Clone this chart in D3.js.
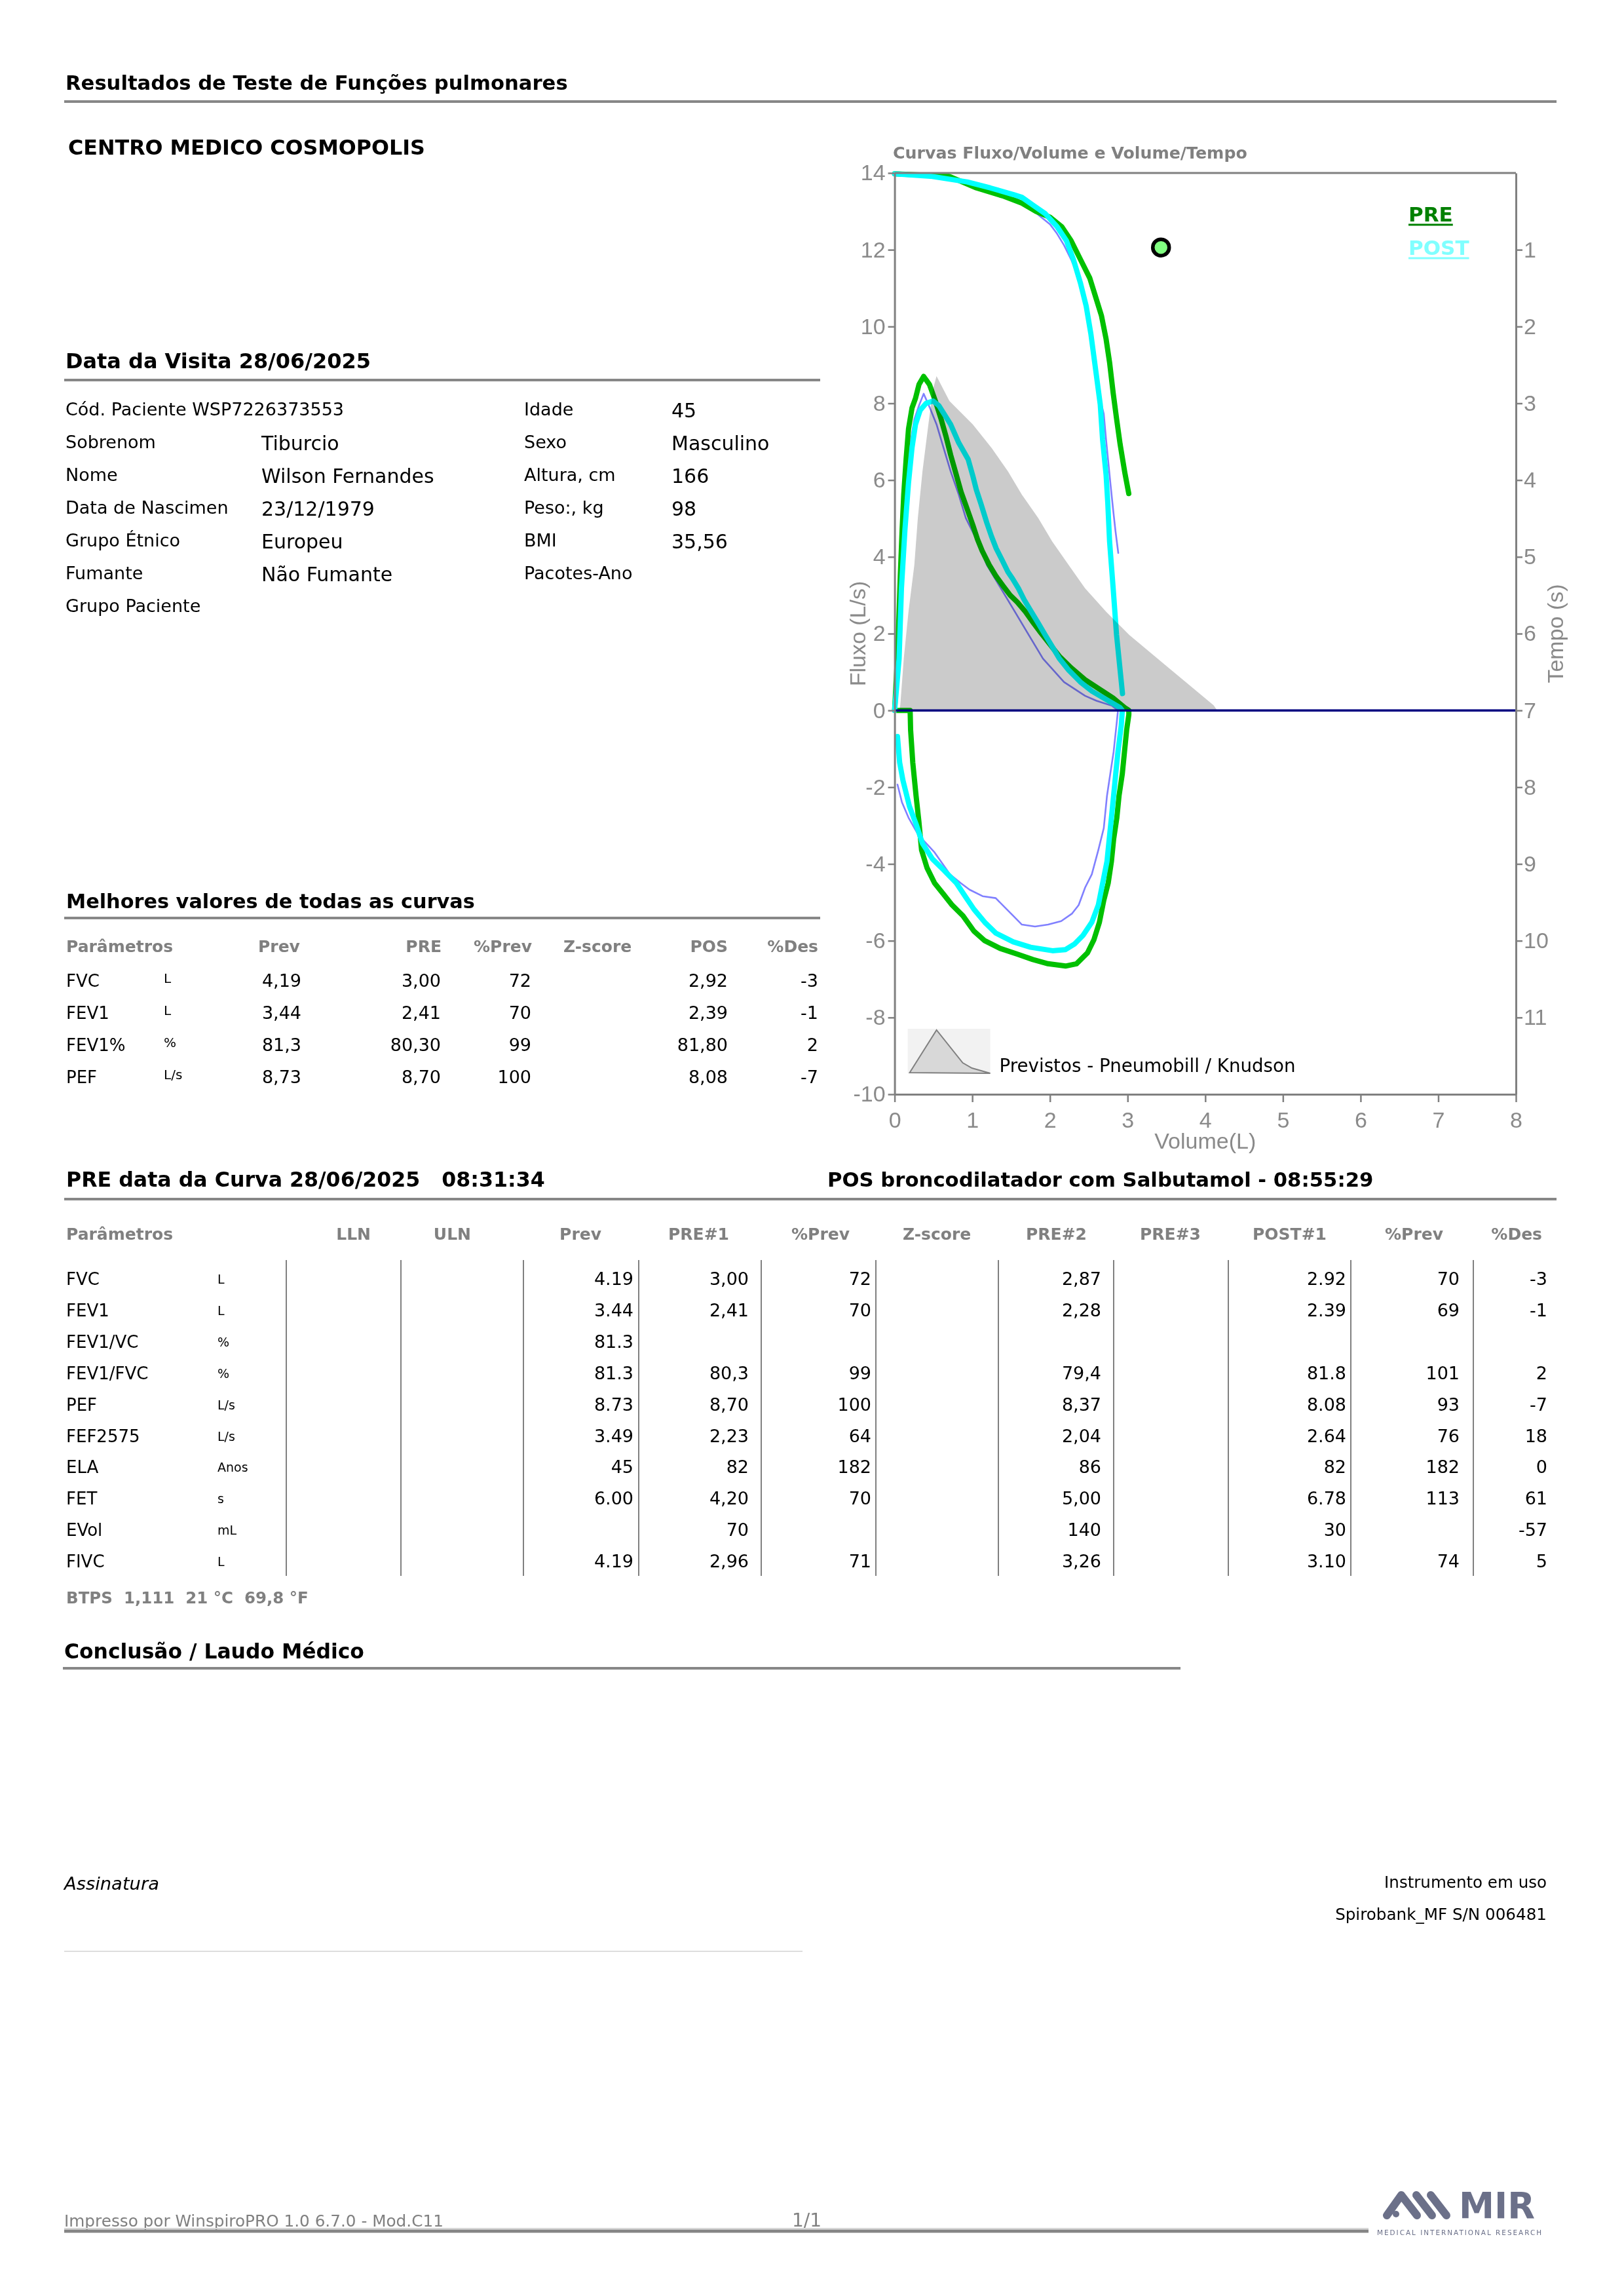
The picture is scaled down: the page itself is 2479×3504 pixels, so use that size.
<!DOCTYPE html>
<html><head><meta charset="utf-8">
<script src="https://cdnjs.cloudflare.com/ajax/libs/d3/7.8.5/d3.min.js"></script>
<style>body{margin:0;background:#fff}svg{display:block}</style>
</head><body>
<script>
// ================= DATA =================
const patLabelsA = ["Cód. Paciente WSP7226373553","Sobrenom","Nome","Data de Nascimen","Grupo Étnico","Fumante","Grupo Paciente"];
const patValuesA = ["","Tiburcio","Wilson Fernandes","23/12/1979","Europeu","Não Fumante",""];
const patLabelsB = ["Idade","Sexo","Altura, cm","Peso:, kg","BMI","Pacotes-Ano",""];
const patValuesB = ["45","Masculino","166","98","35,56","",""];

const bestHeaders = ["Parâmetros","Prev","PRE","%Prev","Z-score","POS","%Des"];
const bestParams  = ["FVC","FEV1","FEV1%","PEF"];
const bestUnits   = ["L","L","%","L/s"];
const bestPrev    = ["4,19","3,44","81,3","8,73"];
const bestPre     = ["3,00","2,41","80,30","8,70"];
const bestPctPrev = ["72","70","99","100"];
const bestPos     = ["2,92","2,39","81,80","8,08"];
const bestPctDes  = ["-3","-1","2","-7"];

const tabHeaders   = ["Parâmetros","LLN","ULN","Prev","PRE#1","%Prev","Z-score","PRE#2","PRE#3","POST#1","%Prev","%Des"];
const tabParams    = ["FVC","FEV1","FEV1/VC","FEV1/FVC","PEF","FEF2575","ELA","FET","EVol","FIVC"];
const tabUnits     = ["L","L","%","%","L/s","L/s","Anos","s","mL","L"];
const tabPrev      = ["4.19","3.44","81.3","81.3","8.73","3.49","45","6.00","","4.19"];
const tabPre1      = ["3,00","2,41","","80,3","8,70","2,23","82","4,20","70","2,96"];
const tabPctPrev   = ["72","70","","99","100","64","182","70","","71"];
const tabPre2      = ["2,87","2,28","","79,4","8,37","2,04","86","5,00","140","3,26"];
const tabPost1     = ["2.92","2.39","","81.8","8.08","2.64","82","6.78","30","3.10"];
const tabPostPct   = ["70","69","","101","93","76","182","113","","74"];
const tabPctDes    = ["-3","-1","","2","-7","18","0","61","-57","5"];

const volTicks  = [0,1,2,3,4,5,6,7,8];
const flowTicks = [14,12,10,8,6,4,2,0,-2,-4,-6,-8,-10];
const timeTicks = [1,2,3,4,5,6,7,8,9,10,11];

// Flow/volume loops [volume L, flow L/s]
const preFV = [[0,0],[0.043,1.66],[0.073,3.49],[0.097,4.71],[0.118,5.63],[0.148,6.54],[0.179,7.33],[0.224,7.88],[0.269,8.13],[0.314,8.49],[0.374,8.70],[0.449,8.49],[0.525,8.06],[0.6,7.58],[0.66,7.15],[0.721,6.66],[0.781,6.23],[0.856,5.69],[0.932,5.26],[1.007,4.83],[1.067,4.46],[1.127,4.16],[1.218,3.79],[1.308,3.49],[1.398,3.24],[1.488,3.0],[1.579,2.82],[1.685,2.57],[1.79,2.27],[1.88,2.03],[2.0,1.72],[2.121,1.41],[2.272,1.11],[2.452,0.8],[2.633,0.56],[2.814,0.32],[2.964,0.07],[3.016,0],
  [3.016,-0.11],[2.988,-0.51],[2.96,-1.08],[2.932,-1.65],[2.89,-2.22],[2.862,-2.79],[2.82,-3.36],[2.792,-3.93],[2.75,-4.5],[2.693,-4.95],[2.637,-5.52],[2.567,-5.97],[2.482,-6.32],[2.342,-6.6],[2.201,-6.66],[1.976,-6.6],[1.78,-6.49],[1.583,-6.35],[1.358,-6.2],[1.161,-6.0],[1.021,-5.75],[0.88,-5.35],[0.74,-5.07],[0.627,-4.78],[0.515,-4.5],[0.417,-4.1],[0.347,-3.64],[0.313,-2.9],[0.276,-2.22],[0.234,-1.36],[0.206,-0.51],[0.2,0],[0.03,0]];
const postFV = [[0,0],[0.058,1.35],[0.088,3.18],[0.133,4.71],[0.179,5.93],[0.224,6.84],[0.269,7.45],[0.329,7.82],[0.405,8.0],[0.495,8.06],[0.57,7.94],[0.721,7.45],[0.826,6.97],[0.947,6.54],[1.007,6.11],[1.052,5.75],[1.112,5.38],[1.187,4.89],[1.248,4.53],[1.308,4.22],[1.383,3.92],[1.459,3.61],[1.519,3.43],[1.594,3.18],[1.669,2.88],[1.76,2.57],[1.85,2.27],[1.94,1.96],[2.03,1.66],[2.121,1.35],[2.241,1.05],[2.392,0.74],[2.542,0.5],[2.753,0.25],[2.904,0.07],[2.932,0],
  [2.918,-0.4],[2.876,-1.08],[2.847,-1.65],[2.82,-2.22],[2.792,-2.79],[2.763,-3.36],[2.735,-3.93],[2.679,-4.5],[2.623,-5.07],[2.539,-5.52],[2.426,-5.86],[2.314,-6.09],[2.201,-6.23],[2.033,-6.26],[1.751,-6.17],[1.527,-6.03],[1.302,-5.8],[1.161,-5.52],[1.021,-5.18],[0.908,-4.84],[0.796,-4.5],[0.627,-4.15],[0.487,-3.87],[0.36,-3.47],[0.276,-2.96],[0.191,-2.5],[0.107,-1.82],[0.065,-1.36],[0.037,-0.68]];
const pre2FV = [[0,0],[0.043,1.66],[0.073,3.49],[0.118,5.63],[0.194,6.84],[0.254,7.58],[0.314,7.94],[0.374,8.25],[0.45,7.9],[0.54,7.45],[0.63,6.84],[0.721,6.23],[0.826,5.62],[0.917,5.01],[1.067,4.40],[1.187,3.79],[1.368,3.18],[1.549,2.57],[1.729,1.96],[1.91,1.35],[2.181,0.74],[2.452,0.38],[2.6,0.25],[2.8,0.12],[2.876,0],
  [2.862,-0.28],[2.82,-1.08],[2.777,-1.65],[2.735,-2.22],[2.693,-3.07],[2.623,-3.64],[2.539,-4.27],[2.454,-4.61],[2.37,-5.07],[2.286,-5.29],[2.145,-5.49],[1.976,-5.58],[1.808,-5.63],[1.639,-5.58],[1.527,-5.35],[1.414,-5.12],[1.302,-4.89],[1.133,-4.84],[0.965,-4.67],[0.852,-4.5],[0.712,-4.27],[0.515,-3.7],[0.304,-3.24],[0.178,-2.79],[0.094,-2.39],[0.037,-1.93]];
// Predicted (Knudson) expiratory curve [volume, flow]
const predFV = [[0.06,0],[0.073,0.13],[0.118,1.35],[0.179,2.57],[0.254,3.79],[0.299,5.01],[0.359,6.23],[0.435,7.45],[0.495,8.37],[0.54,8.71],[0.706,8.06],[1.007,7.45],[1.248,6.84],[1.459,6.23],[1.639,5.62],[1.85,5.01],[2.03,4.40],[2.241,3.79],[2.452,3.18],[2.723,2.57],[3.024,1.96],[3.385,1.35],[3.747,0.74],[4.109,0.13],[4.154,0]];
// Volume/time curves [volume L, time s]
const preVT  = [[0,0.011],[0.698,0.042],[1.053,0.194],[1.407,0.303],[1.639,0.393],[1.82,0.5],[2.0,0.576],[2.151,0.698],[2.272,0.881],[2.392,1.125],[2.513,1.369],[2.588,1.613],[2.663,1.857],[2.723,2.162],[2.768,2.467],[2.814,2.864],[2.858,3.2],[2.904,3.535],[2.964,3.901],[3.015,4.176]];
const postVT = [[0,0.011],[0.461,0.042],[0.934,0.116],[1.23,0.194],[1.526,0.28],[1.639,0.317],[1.79,0.424],[1.94,0.53],[2.091,0.698],[2.212,0.881],[2.302,1.125],[2.392,1.43],[2.467,1.735],[2.528,2.101],[2.588,2.559],[2.648,3.016],[2.678,3.474],[2.723,3.931],[2.745,4.3],[2.768,4.798],[2.814,5.408],[2.858,6.018],[2.919,6.628],[2.934,6.781]];
const pre2VT = [[0,0.011],[0.46,0.04],[0.93,0.12],[1.23,0.19],[1.53,0.3],[1.82,0.52],[2.0,0.667],[2.091,0.79],[2.181,0.94],[2.272,1.125],[2.347,1.308],[2.392,1.43],[2.467,1.735],[2.528,2.101],[2.588,2.559],[2.648,2.95],[2.693,3.138],[2.723,3.474],[2.753,3.779],[2.783,4.084],[2.814,4.389],[2.844,4.664],[2.88,4.95]];
const predFEV1 = [[3.43, 0.97]];

// ================= RENDER =================
const W=2479,H=3504;
const FF='DejaVu Sans', FA='Liberation Sans';
const GRAY='#808080';
const svg=d3.select('body').append('svg').attr('width',W).attr('height',H).attr('viewBox',`0 0 ${W} ${H}`);
svg.append('rect').attr('width',W).attr('height',H).attr('fill','#fff');

function txt(g,x,y,s,o={}){
  const fs=o.fs||27;
  const t=g.append('text').attr('x',x).attr('y',y).text(s)
    .attr('font-family',o.ff||FF).attr('font-size',fs)
    .attr('font-weight',o.fw||'normal').attr('fill',o.fill||'#000')
    .attr('text-anchor',o.anchor||'start').style('white-space','pre');
  if(o.italic) t.attr('font-style','italic');
  if(o.ls) t.attr('letter-spacing',o.ls);
  if(o.w && s){ const L=t.node().getComputedTextLength(); if(L>0) t.attr('font-size',fs*o.w/L); }
  return t;
}
function rule(x1,x2,y,w=4,c='#878787'){
  svg.append('line').attr('x1',x1).attr('x2',x2).attr('y1',y).attr('y2',y).attr('stroke',c).attr('stroke-width',w);
}

// ---- header ----
txt(svg,100,137,"Resultados de Teste de Funções pulmonares",{fw:'bold',fs:31,w:767});
rule(98,2376,155);
txt(svg,104,236,"CENTRO MEDICO COSMOPOLIS",{fw:'bold',fs:31,w:545});
txt(svg,100,562,"Data da Visita 28/06/2025",{fw:'bold',fs:31,w:466});
rule(98,1252,580);

const patY0=634, patDY=50;
patLabelsA.forEach((s,i)=>{ if(s) txt(svg,100,patY0+i*patDY,s,{fs:27}); });
patValuesA.forEach((s,i)=>{ if(s) txt(svg,399,patY0+3+i*patDY,s,{fs:30}); });
patLabelsB.forEach((s,i)=>{ if(s) txt(svg,800,patY0+i*patDY,s,{fs:27}); });
patValuesB.forEach((s,i)=>{ if(s) txt(svg,1025,patY0+3+i*patDY,s,{fs:30}); });

// ---- best values ----
txt(svg,101,1386,"Melhores valores de todas as curvas",{fw:'bold',fs:31,w:624});
rule(98,1252,1401);
const bestHdrPos=[[101,'start'],[394,'start'],[674,'end'],[812,'end'],[860,'start'],[1111,'end'],[1249,'end']];
bestHeaders.forEach((s,i)=>txt(svg,bestHdrPos[i][0],1453,s,{fw:'bold',fs:25,fill:GRAY,anchor:bestHdrPos[i][1]}));
const bestCols=[[bestPrev,460],[bestPre,673],[bestPctPrev,811],[bestPos,1111],[bestPctDes,1249]];
bestParams.forEach((p,i)=>{
  const y=1506+i*49;
  txt(svg,101,y,p,{fs:26});
  txt(svg,250,y-6,bestUnits[i],{fs:20});
  bestCols.forEach(([arr,x])=>{ if(arr[i]) txt(svg,x,y,arr[i],{fs:27,anchor:'end'}); });
});

// ---- full table ----
txt(svg,101,1811,"PRE data da Curva 28/06/2025   08:31:34",{fw:'bold',fs:31,w:731});
txt(svg,1263,1811,"POS broncodilatador com Salbutamol - 08:55:29",{fw:'bold',fs:31,w:834});
rule(98,2376,1830);
const tabHdrPos=[[101,'start'],[566,'end'],[719,'end'],[918,'end'],[1113,'end'],[1297,'end'],[1378,'start'],[1659,'end'],[1833,'end'],[2025,'end'],[2203,'end'],[2354,'end']];
tabHeaders.forEach((s,i)=>txt(svg,tabHdrPos[i][0],1892,s,{fw:'bold',fs:25,fill:GRAY,anchor:tabHdrPos[i][1]}));
const sepX=[437,612,799,975,1162,1337,1524,1700,1875,2062,2249];
sepX.forEach(x=>svg.append('line').attr('x1',x).attr('x2',x).attr('y1',1923).attr('y2',2405).attr('stroke',GRAY).attr('stroke-width',2));
const tabCols=[[tabPrev,967],[tabPre1,1143],[tabPctPrev,1330],[tabPre2,1681],[tabPost1,2055],[tabPostPct,2228],[tabPctDes,2362]];
tabParams.forEach((p,i)=>{
  const y=1961+i*47.9;
  txt(svg,101,y,p,{fs:26});
  txt(svg,332,y-2,tabUnits[i],{fs:19});
  tabCols.forEach(([arr,x])=>{ if(arr[i]) txt(svg,x,y,arr[i],{fs:27,anchor:'end'}); });
});
txt(svg,101,2447,"BTPS  1,111  21 °C  69,8 °F",{fw:'bold',fs:25,fill:GRAY,w:370});

// ---- conclusion / signature ----
txt(svg,98,2531,"Conclusão / Laudo Médico",{fw:'bold',fs:31,w:458});
rule(96,1802,2546);
txt(svg,98,2884,"Assinatura",{fs:26,italic:true,w:145});
txt(svg,2361,2881,"Instrumento em uso",{fs:26,anchor:'end',w:248});
txt(svg,2361,2930,"Spirobank_MF S/N 006481",{fs:26,anchor:'end',w:323});
rule(98,1225,2978,2,'#dedede');

// ---- footer ----
txt(svg,98,3398,"Impresso por WinspiroPRO 1.0 6.7.0 - Mod.C11",{fs:24,fill:GRAY,w:579});
txt(svg,1209,3398,"1/1",{fs:24,fill:GRAY,w:45});
rule(98,2089,3401,2,'#d8d8d8');
rule(98,2089,3405,5,'#858585');
// MIR logo
const LOGO='#6b7089';
const logo=svg.append('g').attr('fill','none').attr('stroke',LOGO).attr('stroke-width',12).attr('stroke-linecap','round').attr('stroke-linejoin','round');
logo.append('path').attr('d','M2117,3381 L2139,3350 L2163,3381');
logo.append('path').attr('d','M2162,3350 L2186,3381');
logo.append('path').attr('d','M2184,3350 L2208,3381');
svg.append('circle').attr('cx',2131).attr('cy',3379).attr('r',5).attr('fill',LOGO);
txt(svg,2227,3385,"MIR",{fw:'bold',fs:52,fill:LOGO,w:116});
txt(svg,2102,3411,"MEDICAL INTERNATIONAL RESEARCH",{fs:9,fill:LOGO,ls:2,w:263});

// ================= CHART =================
const X=d3.scaleLinear().domain([0,8]).range([1365.6,2314]);
const Y=d3.scaleLinear().domain([-10,14]).range([1670,264]);
const Tm=d3.scaleLinear().domain([0,12]).range([264,1670]);
const chart=svg.append('g');

txt(chart,1363,242,"Curvas Fluxo/Volume e Volume/Tempo",{fw:'bold',fs:26,fill:GRAY,w:541});

const lineFV=d3.line().x(d=>X(d[0])).y(d=>Y(d[1]));
const lineVT=d3.line().x(d=>X(d[0])).y(d=>Tm(d[1]));
const curves=chart.append('g').attr('fill','none').attr('stroke-linejoin','round').attr('stroke-linecap','round');
curves.append('path').attr('d',lineFV(pre2FV)).attr('stroke','#8080ff').attr('stroke-width',2.6);
curves.append('path').attr('d',lineVT(pre2VT)).attr('stroke','#8080ff').attr('stroke-width',2.6);
curves.append('path').attr('d',lineFV(preFV)).attr('stroke','#00c000').attr('stroke-width',8);
curves.append('path').attr('d',lineVT(preVT)).attr('stroke','#00c000').attr('stroke-width',8);
curves.append('path').attr('d',lineFV(postFV)).attr('stroke','#00ffff').attr('stroke-width',8);
curves.append('path').attr('d',lineVT(postVT)).attr('stroke','#00ffff').attr('stroke-width',8);

// predicted area drawn on top, multiplied
const area=d3.area().x(d=>X(d[0])).y0(Y(0)).y1(d=>Y(d[1]));
chart.append('path').attr('d',area(predFV)).attr('fill','#cbcbcb').style('mix-blend-mode','multiply');

// zero line
chart.append('line').attr('x1',X(0)).attr('x2',X(8)).attr('y1',Y(0)).attr('y2',Y(0)).attr('stroke','#000080').attr('stroke-width',3.5);

// predicted FEV1 marker
chart.selectAll('circle.p').data(predFEV1).join('circle').attr('class','p').attr('cx',d=>X(d[0])).attr('cy',d=>Tm(d[1])).attr('r',12.5)
  .attr('fill','#80ff80').attr('stroke','#000').attr('stroke-width',5.5);

// axes
function styleAxis(g){
  g.selectAll('path.domain').attr('stroke',GRAY).attr('stroke-width',3);
  g.selectAll('.tick line').attr('stroke',GRAY).attr('stroke-width',2.5);
  g.selectAll('text').attr('font-family',FA).attr('font-size',34).attr('fill','#8a8a8a');
}
const fmt=d=>String(d);
styleAxis(chart.append('g').attr('transform',`translate(${X(0)},0)`).call(d3.axisLeft(Y).tickValues(flowTicks).tickFormat(fmt).tickSize(10).tickSizeOuter(0).tickPadding(4)));
styleAxis(chart.append('g').attr('transform',`translate(${X(8)},0)`).call(d3.axisRight(Tm).tickValues(timeTicks).tickFormat(fmt).tickSize(10).tickSizeOuter(0).tickPadding(2)));
styleAxis(chart.append('g').attr('transform',`translate(0,${Y(-10)})`).call(d3.axisBottom(X).tickValues(volTicks).tickFormat(fmt).tickSize(12).tickSizeOuter(0).tickPadding(15)));
chart.append('line').attr('x1',X(0)).attr('x2',X(8)).attr('y1',Y(14)).attr('y2',Y(14)).attr('stroke',GRAY).attr('stroke-width',3);

// axis titles
txt(chart,(X(0)+X(8))/2,1753,"Volume(L)",{ff:FA,fs:34,fill:'#8a8a8a',anchor:'middle'});
txt(chart,0,0,"Fluxo (L/s)",{ff:FA,fs:34,fill:'#8a8a8a',anchor:'middle'}).attr('transform',`translate(1321,${Y(2)}) rotate(-90)`);
txt(chart,0,0,"Tempo (s)",{ff:FA,fs:34,fill:'#8a8a8a',anchor:'middle'}).attr('transform',`translate(2386,${Y(2)}) rotate(-90)`);

// PRE / POST legend
const lg=chart.append('g');
const preT=txt(lg,2150,338,"PRE",{fw:'bold',fs:31,fill:'#008000'});
const postT=txt(lg,2150,389,"POST",{fw:'bold',fs:31,fill:'#80ffff'});
lg.append('line').attr('x1',2150).attr('x2',2150+preT.node().getComputedTextLength()).attr('y1',343).attr('y2',343).attr('stroke','#008000').attr('stroke-width',3);
lg.append('line').attr('x1',2150).attr('x2',2150+postT.node().getComputedTextLength()).attr('y1',394).attr('y2',394).attr('stroke','#80ffff').attr('stroke-width',3);

// predicted legend
const pl=chart.append('g').attr('transform',`translate(${X(0)+20},${Y(-10)-100})`);
pl.append('rect').attr('x',0).attr('y',0).attr('width',126).attr('height',68).attr('fill','#f2f2f2');
pl.append('path').attr('d','M3,67 L44,2 L84,52 L98,60 L126,68 Z').attr('fill','#d8d8d8').attr('stroke',GRAY).attr('stroke-width',2);
txt(pl,140,66,"Previstos - Pneumobill / Knudson",{fs:30,w:452});
</script>
</body></html>
